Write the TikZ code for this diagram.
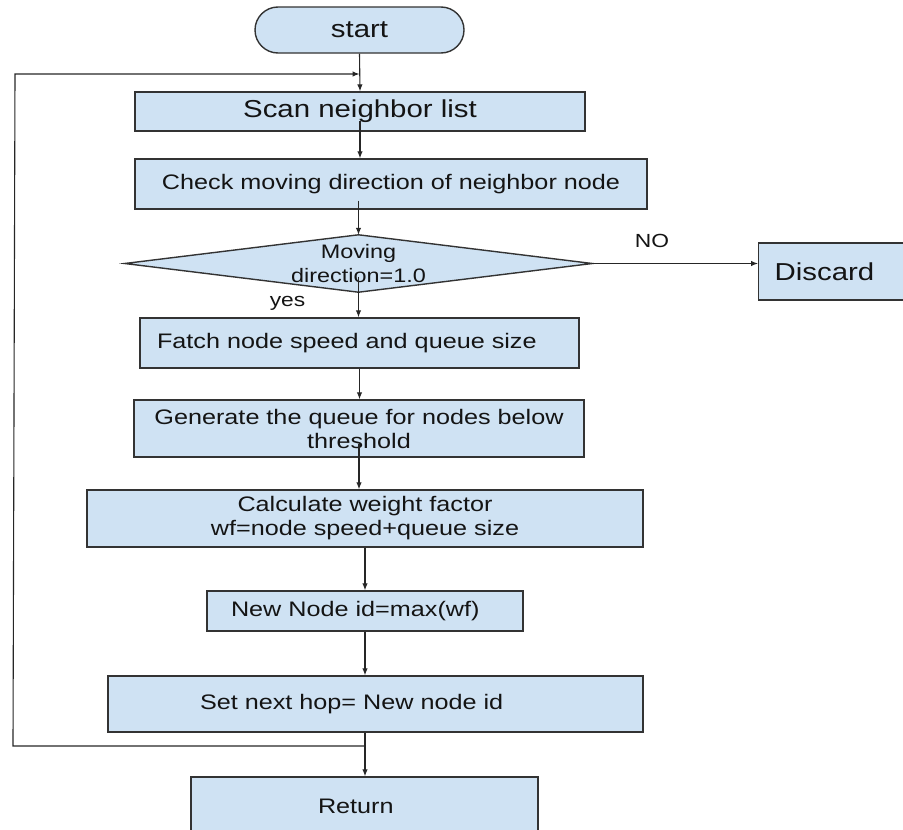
\documentclass[tikz,border=0pt]{standalone}
\usepackage{fontspec}
\setmainfont{Liberation Sans}[FakeStretch=1.2]
\usetikzlibrary{shapes.misc,arrows.meta,backgrounds,calc}
\definecolor{boxfill}{HTML}{CFE2F3}
\definecolor{boxline}{HTML}{333333}
\definecolor{txt}{HTML}{141414}
\begin{document}
\begin{tikzpicture}[x=1pt,y=-1pt,
  box/.style={draw=boxline, fill=boxfill, line width=1.4pt, inner sep=0pt, text=txt,
    font=\fontsize{21}{24}\selectfont, align=center},
  bigtext/.style={font=\fontsize{24.5}{28}\selectfont},
  arr/.style={draw=black!85, line width=1.1pt, -{Latex[length=7pt,width=5.5pt]}},
  lbl/.style={inner sep=0pt, text=txt, font=\fontsize{19}{22}\selectfont}]
\useasboundingbox (0,0) rectangle (903,830);

\node[box, bigtext, rounded rectangle, minimum width=209pt, minimum height=46pt] (start) at (359.5,30) {start};
\node[box, bigtext, minimum width=450pt, minimum height=39pt] (scan) at (360,111.5) {Scan neighbor list};
\node[box, minimum width=512pt, minimum height=50pt] (check) at (391,184) {Check moving direction of neighbor node};
\node[inner sep=0pt, minimum width=467pt, minimum height=57pt, text=txt, align=center,
  font=\fontsize{19.5}{24}\selectfont] (dec) at (358.5,263.5) {Moving\\direction=1.0};
\begin{scope}[on background layer]
  \path[draw=boxline, fill=boxfill, line width=1.4pt] (dec.west) -- (dec.north) -- (dec.east) -- (dec.south) -- cycle;
\end{scope}
\node[box, bigtext, anchor=west, minimum width=152pt, minimum height=57pt, text width=120pt,
  inner xsep=16pt, align=left] (disc) at (758,271.5) {Discard};
\node[lbl] (no) at (652,240.5) {NO};
\node[lbl] (yes) at (287.5,303.5) {yes};
\node[box, minimum width=439pt, minimum height=50pt, text width=405pt, inner xsep=17pt,
  align=left] (fatch) at (359.5,343) {Fatch node speed and queue size};
\node[box, minimum width=450pt, minimum height=57pt] (gen) at (359,428.5) {Generate the queue for nodes below\\threshold};
\node[box, minimum width=556pt, minimum height=57pt] (calc) at (365,518.5) {Calculate weight factor\\wf=node speed+queue size};
\node[box, minimum width=316pt, minimum height=40pt, text width=268pt, inner xsep=24pt,
  align=left] (new) at (365,611) {New Node id=max(wf)};
\node[box, minimum width=535pt, minimum height=56pt, text width=351pt, inner xsep=92pt,
  align=left] (set) at (375.5,704) {Set next hop= New node id};
\node[box, minimum width=347pt, minimum height=58pt, text width=93pt, inner xsep=127pt,
  align=left] (ret) at (364.5,806) {Return};

\coordinate (lb) at (13,746);
\coordinate (lt) at (15,74);

\draw[arr] (start.south) -- (scan.north);
\draw[arr] ($(scan.south)+(0,-11)$) -- (scan.south |- check.north);
\draw[arr] ($(dec.north |- check.south)+(0,-9)$) -- (dec.north);
\draw[arr] ($(dec.center)+(0,13)$) -- (dec.center |- fatch.north);
\draw[arr] (dec.east) -- (dec.east -| disc.west);
\draw[arr] (fatch.south) -- (fatch.south |- gen.north);
\draw[arr] ($(gen.south)+(0,-14)$) -- (gen.south |- calc.north);
\draw[arr] (calc.south) -- (new.north);
\draw[arr] (new.south) -- (new.south |- set.north);
\draw[arr] (new.south |- set.south) -- (new.south |- ret.north);
\draw[arr] (new.south |- lb) -- (lb) -- (lt) -- (start.south |- lt);
\end{tikzpicture}
\end{document}
